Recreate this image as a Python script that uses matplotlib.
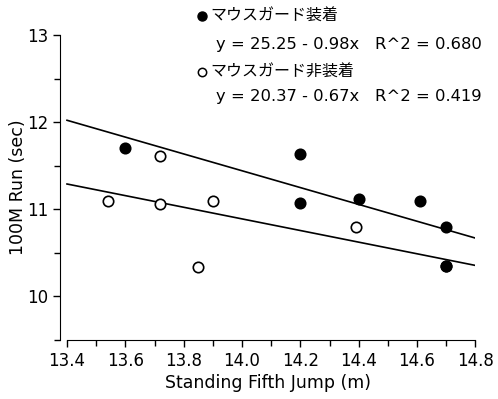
import numpy as np
from matplotlib import pyplot as plt
from matplotlib.ticker import MultipleLocator

plt.rcParams['font.family'] = ['DejaVu Sans', 'Noto Sans CJK JP']

# mouthguard on (filled) / off (open); one open point sits under the filled one at 14.7
jump_on = [13.60, 14.20, 14.20, 14.40, 14.61, 14.70, 14.70]
run_on = [11.70, 11.63, 11.07, 11.12, 11.10, 10.80, 10.35]
jump_off = [13.54, 13.72, 13.72, 13.85, 13.90, 14.39, 14.70]
run_off = [11.10, 11.61, 11.06, 10.34, 11.09, 10.80, 10.35]

label_on = "マウスガード装着"
label_off = "マウスガード非装着"
eq_on = "y = 25.25 - 0.98x   R^2 = 0.680"
eq_off = "y = 20.37 - 0.67x   R^2 = 0.419"

fig = plt.figure(figsize=(4.98, 3.99), dpi=100)
ax = fig.add_axes([0.1205, 0.148, 0.834, 0.764])

xs = np.array([13.4, 14.8])
for jx, ry, face, z in [(jump_off, run_off, 'white', 3), (jump_on, run_on, 'black', 4)]:
    b, a = np.polyfit(jx, ry, 1)
    ax.plot(xs, a + b*xs, color='black', lw=1.2)
    ax.plot(jx, ry, 'o', ms=7.5, mfc=face, mec='black', mew=1.2, zorder=z)

ax.set_xlim(13.376, 14.8)
ax.set_ylim(9.5, 13.0)
ax.spines['top'].set_visible(False)
ax.spines['right'].set_visible(False)
ax.spines['bottom'].set_bounds(13.4, 14.8)
ax.xaxis.set_minor_locator(MultipleLocator(0.1))
ax.yaxis.set_minor_locator(MultipleLocator(0.5))
ax.set_yticks([10, 11, 12, 13])
ax.set_xticks(np.arange(13.4, 14.81, 0.2))
ax.set_xticklabels(["%.1f" % v for v in np.arange(13.4, 14.81, 0.2)])
ax.tick_params(which='both', direction='out', labelsize=12, width=1)
ax.tick_params(which='major', length=5)
ax.tick_params(which='minor', length=4)
ax.set_xlabel("Standing Fifth Jump (m)", fontsize=12.5, labelpad=3)
ax.set_ylabel("100M Run (sec)", fontsize=12.5, labelpad=0)

# legend block at the top
fig.lines.append(plt.Line2D([0.405], [1 - 16/399], marker='o', ms=6.5, mfc='black',
                            mec='black', transform=fig.transFigure))
fig.lines.append(plt.Line2D([0.405], [1 - 72/399], marker='o', ms=6, mfc='white',
                            mec='black', mew=1.1, transform=fig.transFigure))
fig.text(0.422, 1 - 16/399, label_on, fontsize=11.5, va='center')
fig.text(0.434, 1 - 44/399, eq_on, fontsize=11.8, va='center')
fig.text(0.422, 1 - 72/399, label_off, fontsize=11.5, va='center')
fig.text(0.434, 1 - 97/399, eq_off, fontsize=11.8, va='center')

plt.savefig("out.png")
